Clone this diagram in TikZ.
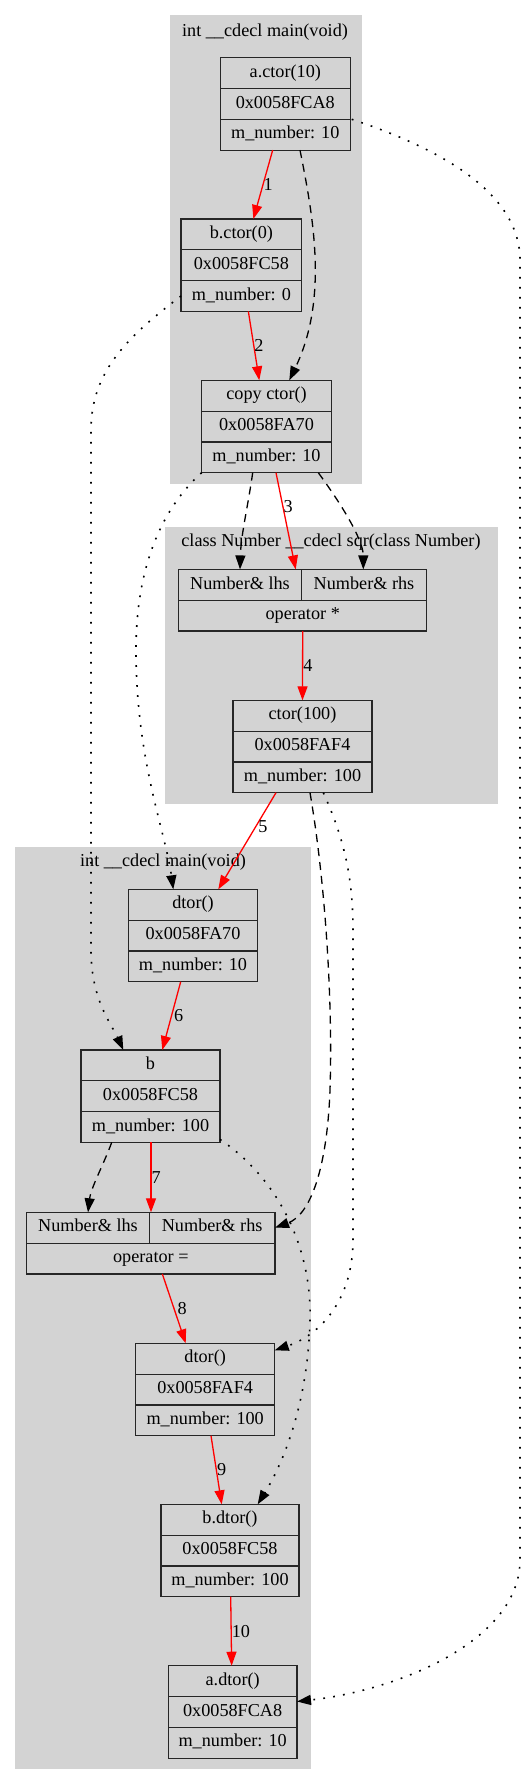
\documentclass[tikz,border=0pt]{standalone}
\usepackage{fontspec}
\setmainfont{Liberation Serif}
\usetikzlibrary{arrows.meta}
\definecolor{clgray}{HTML}{D3D3D3}
\newcommand{\fsz}{\fontsize{18.2}{21}\selectfont}
\newcommand{\recIII}[7]{%
  \node[field, minimum width=#4pt] (#1-1) at (#2,#3+15.4) {#5};
  \node[field, minimum width=#4pt, anchor=north] (#1-2) at (#1-1.south) {#6};
  \node[field, minimum width=#4pt, anchor=north] (#1-3) at (#1-2.south) {#7};
}
\begin{document}
\begin{tikzpicture}[x=1pt,y=-1pt,
  field/.style={draw=black!85, line width=1.2pt, fill=clgray, inner sep=0pt, outer sep=0pt,
    minimum height=30.8pt, text height=12.5pt, text depth=4pt, font=\fsz},
  title/.style={font=\fsz, inner sep=0pt, text height=12.5pt, text depth=4pt},
  lbl/.style={font=\fsz, inner sep=0pt, anchor=west, text=black},
  tip/.style={-{Triangle[length=14pt,width=10pt]}},
  redge/.style={draw=red, line width=1.3pt, tip},
  dedge/.style={draw=black, line width=1.3pt, dash pattern=on 8pt off 6pt, tip},
  pedge/.style={draw=black, line width=1.6pt, dash pattern=on 1.8pt off 8.2pt, tip}]
\useasboundingbox (0,0) rectangle (527,1785);
% clusters
\fill[clgray] (170,15) rectangle (361.7,484);
\node[title] (t1) at (265,32) {int \_\_cdecl main(void)};
\fill[clgray] (165,527.3) rectangle (497.7,804.3);
\node[title] (t2) at (331,542.7) {class Number \_\_cdecl sqr(class Number)};
\fill[clgray] (15,847.3) rectangle (311,1769.3);
\node[title] (t3) at (163,862.7) {int \_\_cdecl main(void)};
% records
\recIII{a}{285.3}{57.7}{130}{a.ctor(10)}{0x0058FCA8}{m\_number: 10}
\recIII{bc}{241.35}{219}{120.7}{b.ctor(0)}{0x0058FC58}{m\_number: 0}
\recIII{cc}{266.5}{380.3}{129.6}{copy ctor()}{0x0058FA70}{m\_number: 10}
\node[field, minimum width=122.6pt] (ol) at (240,584.8) {Number\& lhs};
\node[field, minimum width=125.4pt] (or) at (364,584.8) {Number\& rhs};
\node[field, minimum width=248pt] (ob) at (302.7,615.6) {operator *};
\recIII{c100}{302.5}{700.3}{139}{ctor(100)}{0x0058FAF4}{m\_number: 100}
\recIII{d70}{193}{889.3}{129.4}{dtor()}{0x0058FA70}{m\_number: 10}
\recIII{bb}{150.5}{1050}{139}{b}{0x0058FC58}{m\_number: 100}
\node[field, minimum width=122.6pt] (el) at (88,1227.7) {Number\& lhs};
\node[field, minimum width=125.7pt] (er) at (212.15,1227.7) {Number\& rhs};
\node[field, minimum width=248.3pt] (eb) at (150.85,1258.5) {operator =};
\recIII{f4}{205.2}{1343.3}{139}{dtor()}{0x0058FAF4}{m\_number: 100}
\recIII{bd}{230}{1504.3}{138}{b.dtor()}{0x0058FC58}{m\_number: 100}
\recIII{ad}{232.65}{1665.7}{128.7}{a.dtor()}{0x0058FCA8}{m\_number: 10}
% red sequence edges
\draw[redge] ([xshift=-12.6pt]a-3.south) -- node[lbl]{1} ([xshift=12pt]bc-1.north);
\draw[redge] ([xshift=7pt]bc-3.south) -- node[lbl]{2} ([xshift=-7.2pt]cc-1.north);
\draw[redge] ([xshift=9.5pt]cc-3.south) -- node[lbl, pos=0.35]{3} ([xshift=-5.6pt]ol.north east);
\draw[redge] (ob.south) -- node[lbl]{4} (c100-1.north);
\draw[redge] ([xshift=-26.5pt]c100-3.south) -- node[lbl, pos=0.35, xshift=2pt]{5} ([xshift=25.3pt]d70-1.north);
\draw[redge] ([xshift=-12.3pt]d70-3.south) -- node[lbl, xshift=2pt]{6} ([xshift=11.8pt]bb-1.north);
\draw[redge] ([xshift=0.5pt]bb-3.south) -- node[lbl]{7} ([xshift=1.7pt]er.north west);
\draw[redge] ([xshift=11.5pt]eb.south) -- node[lbl, xshift=3pt]{8} ([xshift=-19.5pt]f4-1.north);
\draw[redge] ([xshift=5.8pt]f4-3.south) -- node[lbl]{9} ([xshift=-8.3pt]bd-1.north);
\draw[redge] ([xshift=0.7pt]bd-3.south) -- node[lbl]{10} ([xshift=-1pt]ad-1.north);
% dashed edges
\draw[dedge] ([xshift=14.7pt]a-3.south) .. controls +(14,70) and +(38.7,-80.3) .. ([xshift=22.8pt]cc-1.north);
\draw[dedge] ([xshift=-13.8pt]cc-3.south) .. controls +(-5,35) and +(1,-35) .. (ol.north);
\draw[dedge] ([xshift=-13pt]cc-3.south east) .. controls +(22,30) and +(0,-30) .. ([xshift=-0.7pt]or.north);
\draw[dedge] ([xshift=7.5pt]c100-3.south) .. controls (325,880) and (333,1000) .. (330,1090) .. controls (327,1170) and (310,1215) .. (er.east);
\draw[dedge] ([xshift=-38.8pt]bb-3.south) .. controls +(-8,22) and +(3,-25) .. (el.north);
% dotted edges
\draw[pedge] ([xshift=1.4pt]a-2.south east) .. controls (445,150) and (520,195) .. (520,260) -- (520,1560) .. controls (520,1640) and (400,1690) .. ([yshift=-5pt]ad-2.north east);
\draw[pedge] (bc-3.west) .. controls (130,335) and (91,370) .. (91,430) -- (91,950) .. controls (91,1000) and (112,1025) .. ([xshift=-27.2pt]bb-1.north);
\draw[pedge] (cc-3.south west) .. controls (160,510) and (136,570) .. (136,650) .. controls (136,760) and (165,830) .. ([xshift=-19.7pt]d70-1.north);
\draw[pedge] ([xshift=20.8pt]c100-3.south) .. controls (345,840) and (353,880) .. (353,930) -- (353,1240) .. controls (353,1300) and (320,1335) .. ([yshift=-7pt]f4-1.north east);
\draw[pedge] ([yshift=3pt]bb-3.south east) .. controls (280,1180) and (312,1250) .. (310,1320) .. controls (308,1400) and (285,1460) .. ([xshift=27.7pt]bd-1.north);
\end{tikzpicture}
\end{document}
